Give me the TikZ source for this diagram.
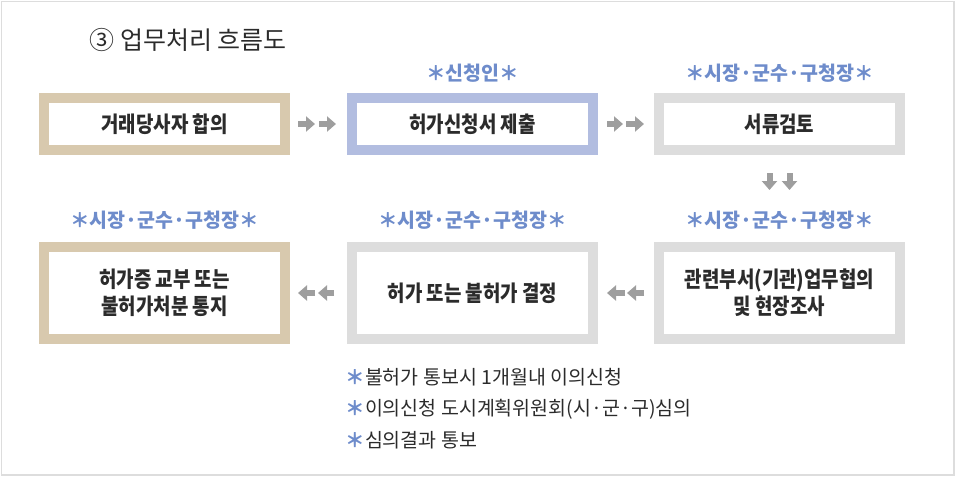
\documentclass[tikz,border=0pt]{standalone}
\usepackage{fontspec}
\setmainfont{Noto Sans CJK KR}
\newfontfamily\serre[FakeStretch=0.86]{Noto Sans CJK KR}
\usepackage{xcolor}
\usepackage{tikz}
\usetikzlibrary{arrows.meta}
\definecolor{beige}{HTML}{D8C9AE}
\definecolor{bleuclair}{HTML}{B2BDE0}
\definecolor{grisclair}{HTML}{DDDDDD}
\definecolor{bleutexte}{HTML}{6E8CCB}
\definecolor{grisfleche}{HTML}{9E9E9E}
\definecolor{texte}{HTML}{2B2B2B}

\tikzset{
  boite/.style={rectangle, draw=#1, line width=10pt, fill=white, minimum width=241pt,
    text=texte, font=\serre\bfseries\fontsize{22}{27}\selectfont, align=center, inner sep=0pt},
  haut/.style={boite=#1, minimum height=52pt},
  bas/.style={boite=#1, minimum height=92pt},
  etiquette/.style={text=bleutexte, font=\fontsize{19.5}{22}\selectfont\bfseries},
  fleche/.style={draw=grisfleche, line width=6pt, -{Triangle[length=9pt, width=15pt]}},
  note/.style={anchor=west, text=texte, font=\fontsize{19.5}{22}\selectfont}
}

\begin{document}
\begin{tikzpicture}[x=1pt, y=-1pt]
    \useasboundingbox (0,0) rectangle (964,477);

    % Cadre gris
    \draw[grisclair, line width=1.5pt] (1.5,1.5) rectangle (954,475);

    % Titre
    \node[anchor=west, text=texte, font=\fontsize{25}{28}\selectfont] (titre) at (86,40) {③ 업무처리 흐름도};

    % Boites du haut
    \node[haut=beige] (accord) at (164.5,124) {거래당사자 합의};
    \node[haut=bleuclair] (demande) at (472.5,124) {허가신청서 제출};
    \node[haut=grisclair] (examen) at (779.5,124) {서류검토};

    % Boites du bas
    \node[bas=beige] (avis) at (164.5,293) {허가증 교부 또는\\불허가처분 통지};
    \node[bas=grisclair] (decision) at (472.5,293) {허가 또는 불허가 결정};
    \node[bas=grisclair] (consult) at (779.5,293) {관련부서(기관)업무협의\\및 현장조사};

    % Etiquettes bleues
    \node[etiquette] (qui1) at (472.5,73) {＊신청인＊};
    \node[etiquette] (qui2) at (779.5,73) {＊시장·군수·구청장＊};
    \node[etiquette] (qui3) at (164.5,220) {＊시장·군수·구청장＊};
    \node[etiquette] (qui4) at (472.5,220) {＊시장·군수·구청장＊};
    \node[etiquette] (qui5) at (779.5,220) {＊시장·군수·구청장＊};

    % Fleches doubles
    \draw[fleche, shorten <=8pt, shorten >=32pt] (accord) -- (demande);
    \draw[fleche, shorten <=29pt, shorten >=11pt] (accord) -- (demande);
    \draw[fleche, shorten <=9pt, shorten >=31pt] (demande) -- (examen);
    \draw[fleche, shorten <=28pt, shorten >=10pt] (demande) -- (examen);
    \draw[fleche, shorten <=18pt, shorten >=52pt] ([xshift=-10pt]examen.south) -- ([xshift=-10pt]consult.north);
    \draw[fleche, shorten <=18pt, shorten >=52pt] ([xshift=10pt]examen.south) -- ([xshift=10pt]consult.north);
    \draw[fleche, shorten <=10pt, shorten >=29pt] (consult) -- (decision);
    \draw[fleche, shorten <=29pt, shorten >=9pt] (consult) -- (decision);
    \draw[fleche, shorten <=13pt, shorten >=28pt] (decision) -- (avis);
    \draw[fleche, shorten <=32pt, shorten >=8pt] (decision) -- (avis);

    % Remarques
    \node[note] (rem1) at (342,377) {\textcolor{bleutexte}{\bfseries ＊}불허가 통보시 1개월내 이의신청};
    \node[note] (rem2) at (342,409) {\textcolor{bleutexte}{\bfseries ＊}이의신청 도시계획위원회(시·군·구)심의};
    \node[note] (rem3) at (342,440) {\textcolor{bleutexte}{\bfseries ＊}심의결과 통보};
\end{tikzpicture}
\end{document}
